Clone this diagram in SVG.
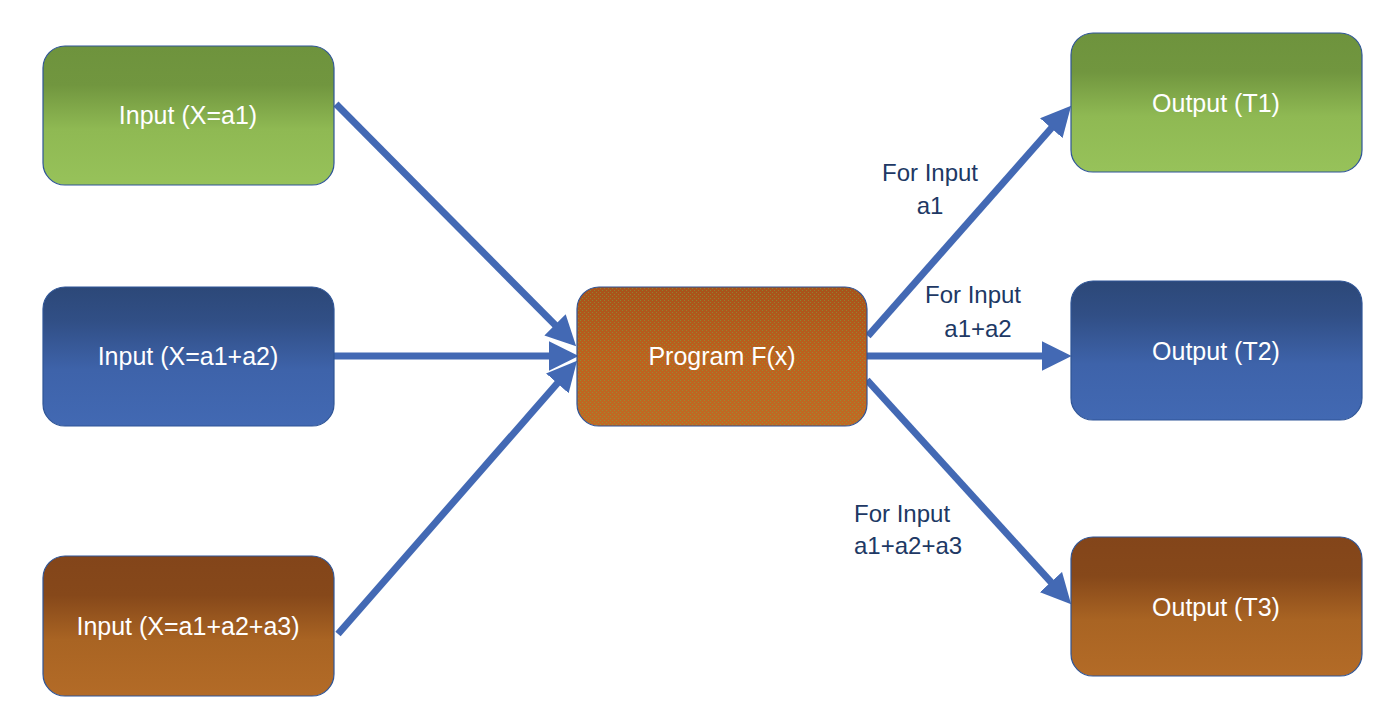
<svg xmlns="http://www.w3.org/2000/svg" width="1400" height="727" viewBox="0 0 1400 727">
<defs>
<linearGradient id="gGreen" x1="0" y1="0" x2="0" y2="1">
<stop offset="0" stop-color="#6e933d"/><stop offset="0.28" stop-color="#71963f"/><stop offset="0.6" stop-color="#8fb953"/><stop offset="1" stop-color="#97c25a"/>
</linearGradient>
<linearGradient id="gBlue" x1="0" y1="0" x2="0" y2="1">
<stop offset="0" stop-color="#2c4878"/><stop offset="0.25" stop-color="#314f86"/><stop offset="0.6" stop-color="#3e63aa"/><stop offset="1" stop-color="#4269b3"/>
</linearGradient>
<linearGradient id="gBrown" x1="0" y1="0" x2="0" y2="1">
<stop offset="0" stop-color="#83451a"/><stop offset="0.28" stop-color="#86481a"/><stop offset="0.6" stop-color="#a96423"/><stop offset="1" stop-color="#b36b27"/>
</linearGradient>
<linearGradient id="gProg" x1="0" y1="0" x2="0" y2="1">
<stop offset="0" stop-color="#a8521a"/><stop offset="0.5" stop-color="#bd611e"/><stop offset="1" stop-color="#c06a24"/>
</linearGradient>
<pattern id="pDots" width="4" height="4" patternUnits="userSpaceOnUse">
<rect x="0" y="0" width="1" height="1" fill="#7aa843"/>
<rect x="2" y="2" width="1" height="1" fill="#7aa843"/>
</pattern>
<marker id="ah" markerUnits="userSpaceOnUse" markerWidth="30" markerHeight="30" viewBox="0 0 27 27" refX="12" refY="13.5" orient="auto">
<path d="M0,0 L27,13.5 L0,27 Z" fill="#4369b4"/>
</marker>
</defs>
<style>
.box{stroke:#2f5597;stroke-width:1.2}
.lbl{font-family:"Liberation Sans",Arial,sans-serif;font-size:25px;fill:#ffffff;text-anchor:middle}
.note{font-family:"Liberation Sans",Arial,sans-serif;font-size:24px;fill:#203864}
.conn{stroke:#4369b4;stroke-width:7;fill:none;marker-end:url(#ah)}
</style>
<rect width="1400" height="727" fill="#ffffff"/>
<g id="connectors">
<line class="conn" x1="336" y1="104" x2="564.4" y2="334.3"/>
<line class="conn" x1="334" y1="356" x2="562" y2="356"/>
<line class="conn" x1="338" y1="634" x2="566.1" y2="373.3"/>
<line class="conn" x1="868" y1="336" x2="1060.1" y2="118.2"/>
<line class="conn" x1="867" y1="356" x2="1055" y2="356"/>
<line class="conn" x1="867" y1="380" x2="1059.9" y2="591.9"/>
</g>
<g id="in1"><rect class="box" x="43" y="46" width="291" height="139" rx="22" fill="url(#gGreen)"/><text class="lbl" x="188" y="124">Input (X=a1)</text></g>
<g id="in2"><rect class="box" x="43" y="287" width="291" height="139" rx="22" fill="url(#gBlue)"/><text class="lbl" x="188" y="365">Input (X=a1+a2)</text></g>
<g id="in3"><rect class="box" x="43" y="556" width="291" height="140" rx="22" fill="url(#gBrown)"/><text class="lbl" x="188" y="635">Input (X=a1+a2+a3)</text></g>
<g id="prog"><rect class="box" x="577" y="287" width="290" height="139" rx="22" fill="url(#gProg)"/><rect x="578" y="288" width="288" height="137" rx="21" fill="url(#pDots)" opacity="0.55"/><text class="lbl" x="722" y="365">Program F(x)</text></g>
<g id="out1"><rect class="box" x="1071" y="33" width="291" height="139" rx="22" fill="url(#gGreen)"/><text class="lbl" x="1216" y="112">Output (T1)</text></g>
<g id="out2"><rect class="box" x="1071" y="281" width="291" height="139" rx="22" fill="url(#gBlue)"/><text class="lbl" x="1216" y="360">Output (T2)</text></g>
<g id="out3"><rect class="box" x="1071" y="537" width="291" height="139" rx="22" fill="url(#gBrown)"/><text class="lbl" x="1216" y="616">Output (T3)</text></g>
<g id="labels">
<text class="note" x="930" y="181" text-anchor="middle">For Input</text>
<text class="note" x="930" y="214" text-anchor="middle">a1</text>
<text class="note" x="973" y="303" text-anchor="middle">For Input</text>
<text class="note" x="978" y="337" text-anchor="middle">a1+a2</text>
<text class="note" x="854" y="522">For Input</text>
<text class="note" x="854" y="554">a1+a2+a3</text>
</g>
</svg>
